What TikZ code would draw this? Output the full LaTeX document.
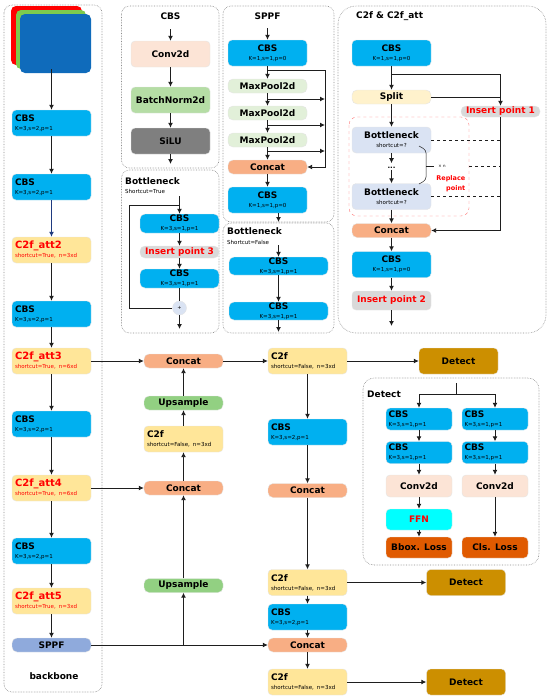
\documentclass[tikz,border=0pt]{standalone}
\usepackage{fontspec}
\setmainfont{DejaVu Sans}
\usetikzlibrary{arrows.meta,calc,positioning}
\definecolor{Ink}{HTML}{1E1E1E}
\definecolor{PanelGrey}{HTML}{8C8C8C}
\definecolor{EdgeGrey}{HTML}{E4E4E4}
\definecolor{CbsBlue}{HTML}{00B0F0}
\definecolor{StackRed}{HTML}{FF0000}
\definecolor{StackBlue}{HTML}{0F6BBB}
\definecolor{StackGreen}{HTML}{7CCB4E}
\definecolor{AttYellow}{HTML}{FFE699}
\definecolor{SplitYellow}{HTML}{FFF2CC}
\definecolor{SppfBlue}{HTML}{8FAADC}
\definecolor{ConcatOrange}{HTML}{F8AE84}
\definecolor{UpsampleGreen}{HTML}{92D082}
\definecolor{ConvPeach}{HTML}{FCE4D6}
\definecolor{NormGreen}{HTML}{B5DDA5}
\definecolor{PoolGreen}{HTML}{E2F0D9}
\definecolor{SiluGrey}{HTML}{7F7F7F}
\definecolor{InsertGrey}{HTML}{D9D9D9}
\definecolor{NeckBlue}{HTML}{DAE3F3}
\definecolor{DetectGold}{HTML}{CC8F00}
\definecolor{LossOrange}{HTML}{E05A00}
\definecolor{FfnCyan}{HTML}{00FFFF}
\definecolor{NavyLine}{HTML}{1F3A7F}
\newcommand{\twolab}[2]{#1\\[-1pt]{\fontsize{5.5}{6}\selectfont\mdseries #2}}
\tikzset{
  panel/.style={draw=PanelGrey,densely dotted,line width=0.6pt,rounded corners=8pt},
  blockbox/.style={rectangle,rounded corners=4pt,draw=EdgeGrey,line width=0.4pt,minimum width=79pt,inner sep=0pt,
    font=\fontsize{9}{10}\selectfont\bfseries,align=center},
  tallbox/.style={blockbox,minimum height=26pt},
  slimbox/.style={blockbox,minimum height=14pt,rounded corners=5pt},
  leftbox/.style={tallbox,align=left,text width=73pt},
  title/.style={inner sep=0pt,font=\fontsize{9}{10}\selectfont\bfseries},
  flow/.style={draw=Ink,line width=0.95pt,-{Latex[length=5pt,width=5pt]}},
  plainflow/.style={draw=Ink,line width=0.95pt},
  dashflow/.style={draw=Ink,line width=0.85pt,dashed},
}
\begin{document}
\begin{tikzpicture}[x=1pt,y=-1pt]
    \useasboundingbox (0,0) rectangle (550,699);
    % dotted panels
    \draw[panel] (4,5) rectangle (102,692);
    \draw[panel] (121.5,6) rectangle (219,168);
    \draw[panel] (223,6) rectangle (334,222);
    \draw[panel] (121.5,170) rectangle (219,333);
    \draw[panel] (223,223) rectangle (334,333);
    \draw[panel,rounded corners=18pt] (338,6) rectangle (546,333);
    \draw[panel,rounded corners=11pt] (363,378) rectangle (539,565);
    \draw[draw=red!55,dashed,line width=0.4pt,rounded corners=8pt] (349,117) rectangle (469,216);
    % backbone
    \node[rectangle,rounded corners=5pt,fill=StackRed,minimum width=71pt,minimum height=59pt] (stackr) at (46.5,35.5) {};
    \node[rectangle,rounded corners=5pt,fill=StackGreen,minimum width=70pt,minimum height=59pt] (stackg) at (51,39.5) {};
    \node[rectangle,rounded corners=5pt,fill=StackBlue,minimum width=71pt,minimum height=59pt] (stackb) at (55.5,43.5) {};
    \coordinate (stackout) at (51.5,69);
    \node[leftbox,fill=CbsBlue] (b1) at (51.5,123) {\twolab{CBS}{K=3,s=2,p=1}};
    \node[leftbox,fill=CbsBlue] (b2) at (51.5,187) {\twolab{CBS}{K=3,s=2,p=1}};
    \node[leftbox,fill=AttYellow,text=red] (b3) at (51.5,250) {\twolab{\fontsize{10}{10}\selectfont C2f\_att2}{shortcut=True, n=3xd}};
    \node[leftbox,fill=CbsBlue] (b4) at (51.5,314) {\twolab{CBS}{K=3,s=2,p=1}};
    \node[leftbox,fill=AttYellow,text=red] (b5) at (51.5,361) {\twolab{\fontsize{10}{10}\selectfont C2f\_att3}{shortcut=True, n=6xd}};
    \node[leftbox,fill=CbsBlue] (b6) at (51.5,424) {\twolab{CBS}{K=3,s=2,p=1}};
    \node[leftbox,fill=AttYellow,text=red] (b7) at (51.5,488) {\twolab{\fontsize{10}{10}\selectfont C2f\_att4}{shortcut=True, n=6xd}};
    \node[leftbox,fill=CbsBlue] (b8) at (51.5,551) {\twolab{CBS}{K=3,s=2,p=1}};
    \node[leftbox,fill=AttYellow,text=red] (b9) at (51.5,601) {\twolab{\fontsize{10}{10}\selectfont C2f\_att5}{shortcut=True, n=3xd}};
    \node[slimbox,fill=SppfBlue] (b10) at (51.5,645) {SPPF};
    \node[title] (backbonelab) at (54,676) {backbone};
    \draw[flow] (stackout) -- (b1);
    \draw[flow] (b1) -- (b2);
    \draw[flow,draw=NavyLine] (b2) -- (b3);
    \draw[flow] (b3) -- (b4);
    \draw[flow] (b4) -- (b5);
    \draw[flow] (b5) -- (b6);
    \draw[flow] (b6) -- (b7);
    \draw[flow] (b7) -- (b8);
    \draw[flow] (b8) -- (b9);
    \draw[flow] (b9) -- (b10);
    % CBS panel
    \node[title] (cbslab) at (170.5,16) {CBS};
    \node[tallbox,fill=ConvPeach] (cbsconv) at (170.5,54) {Conv2d};
    \node[tallbox,fill=NormGreen] (cbsnorm) at (170.5,100) {BatchNorm2d};
    \node[tallbox,fill=SiluGrey] (cbssilu) at (170.5,141) {SiLU};
    \coordinate (cbsin) at (170.5,29);
    \coordinate (cbsout) at (170.5,164);
    \draw[flow] (cbsin) -- (cbsconv);
    \draw[flow] (cbsconv) -- (cbsnorm);
    \draw[flow] (cbsnorm) -- (cbssilu);
    \draw[flow] (cbssilu) -- (cbsout);
    % SPPF panel
    \node[title] (sppflab) at (267.5,16) {SPPF};
    \node[tallbox,fill=CbsBlue] (s1) at (267.5,53) {\twolab{CBS}{K=1,s=1,p=0}};
    \node[slimbox,fill=PoolGreen] (s2) at (267.5,86) {MaxPool2d};
    \node[slimbox,fill=PoolGreen] (s3) at (267.5,113) {MaxPool2d};
    \node[slimbox,fill=PoolGreen] (s4) at (267.5,140) {MaxPool2d};
    \node[slimbox,fill=ConcatOrange] (s5) at (267.5,167) {Concat};
    \node[tallbox,fill=CbsBlue] (s6) at (267.5,200) {\twolab{CBS}{K=1,s=1,p=0}};
    \coordinate (sin) at (267.5,28);
    \coordinate (tap0) at (267.5,70);
    \coordinate (tap1) at (267.5,99);
    \coordinate (tap2) at (267.5,125);
    \coordinate (tap3) at (267.5,151);
    \coordinate (busr) at (325,70);
    \coordinate (sout) at (278.5,213);
    \coordinate (soutend) at (278.5,222);
    \draw[flow] (sin) -- (s1);
    \draw[flow] (s1) -- (s2);
    \draw[flow] (s2) -- (s3);
    \draw[flow] (s3) -- (s4);
    \draw[flow] (s4) -- (s5);
    \draw[flow] (s5) -- (s6);
    \draw[flow] (tap0) -- (busr) |- (s5);
    \draw[flow] (tap1) -- (busr |- tap1);
    \draw[flow] (tap2) -- (busr |- tap2);
    \draw[flow] (tap3) -- (busr |- tap3);
    \draw[flow] (sout) -- (soutend);
    % Bottleneck, shortcut on
    \node[title,anchor=west] (bt1lab) at (125,181) {Bottleneck};
    \node[anchor=west,inner sep=0pt,font=\fontsize{5.5}{6}\selectfont] (bt1sub) at (125,191) {Shortcut=True};
    \node[blockbox,fill=CbsBlue,minimum height=19pt,rounded corners=5pt] (t1) at (179.5,223.5) {\twolab{CBS}{K=3,s=1,p=1}};
    \node[slimbox,fill=InsertGrey,text=red,minimum height=12pt] (t2) at (179.5,252) {Insert point 3};
    \node[blockbox,fill=CbsBlue,minimum height=19pt,rounded corners=5pt] (t3) at (179.5,278.5) {\twolab{CBS}{K=3,s=1,p=1}};
    \node[circle,draw=EdgeGrey,fill=NeckBlue,minimum size=14pt,inner sep=0pt,font=\fontsize{5}{6}\selectfont] (tplus) at (179.5,308) {+};
    \coordinate (tin) at (179.5,196);
    \coordinate (ttap) at (179.5,205);
    \coordinate (tleft) at (129,205);
    \coordinate (tout) at (179.5,329);
    \draw[flow] (tin) -- (t1);
    \draw[flow] (t1) -- (t2);
    \draw[flow] (t2) -- (t3);
    \draw[plainflow] (t3) -- (tplus);
    \draw[flow] (tplus) -- (tout);
    \draw[plainflow] (ttap) -- (tleft) |- (tplus);
    % Bottleneck, shortcut off
    \node[title,anchor=west] (bt2lab) at (227,231) {Bottleneck};
    \node[anchor=west,inner sep=0pt,font=\fontsize{5.5}{6}\selectfont] (bt2sub) at (227,242) {Shortcut=False};
    \node[blockbox,fill=CbsBlue,minimum width=99pt,minimum height=18pt,rounded corners=5pt] (u1) at (278.5,266) {\twolab{CBS}{K=3,s=1,p=1}};
    \node[blockbox,fill=CbsBlue,minimum width=99pt,minimum height=18pt,rounded corners=5pt] (u2) at (278.5,311) {\twolab{CBS}{K=3,s=1,p=1}};
    \coordinate (uin) at (278.5,245);
    \coordinate (uout) at (278.5,332);
    \draw[flow] (uin) -- (u1);
    \draw[flow] (u1) -- (u2);
    \draw[flow] (u2) -- (uout);
    % C2f panel
    \node[title,anchor=west] (c2flab) at (356,16) {C2f \& C2f\_att};
    \node[tallbox,fill=CbsBlue] (c1) at (391.5,53) {\twolab{CBS}{K=1,s=1,p=0}};
    \node[slimbox,fill=SplitYellow] (c2) at (391.5,97) {Split};
    \node[slimbox,fill=InsertGrey,text=red,minimum height=11pt] (c3) at (500.5,111.5) {Insert point 1};
    \node[tallbox,fill=NeckBlue] (c4) at (391.5,140) {\twolab{Bottleneck}{shortcut=?}};
    \node[inner sep=0pt,font=\fontsize{7}{8}\selectfont\bfseries] (cdots) at (391.5,168) {...};
    \node[tallbox,fill=NeckBlue] (c5) at (391.5,196.5) {\twolab{Bottleneck}{shortcut=?}};
    \node[slimbox,fill=ConcatOrange] (c6) at (391.5,230.5) {Concat};
    \node[tallbox,fill=CbsBlue] (c7) at (391.5,264.5) {\twolab{CBS}{K=1,s=1,p=0}};
    \node[blockbox,fill=InsertGrey,text=red,minimum height=19pt] (c8) at (391.5,300.5) {Insert point 2};
    \node[inner sep=0pt,font=\fontsize{6.5}{10}\selectfont\bfseries,text=red,align=right,anchor=east] (creplace) at (465.5,184) {Replace\\point};
    \node[inner sep=0pt,font=\fontsize{4}{5}\selectfont] (ctimes) at (442,166.5) {× n};
    \coordinate (ctap) at (391.5,74);
    \coordinate (cbus) at (500.5,74);
    \coordinate (cdash) at (500.5,166.5);
    \coordinate (cdashl) at (469,166.5);
    \coordinate (ctick) at (426,166.5);
    \coordinate (ctickr) at (434,166.5);
    \coordinate (cout) at (391.5,326);
    \draw[flow] (c1) -- (c2);
    \draw[plainflow] (ctap) -- (cbus);
    \draw[flow] (cbus) -- (c3);
    \draw[plainflow] (c2) -- (c2 -| c3);
    \draw[flow] (c2) -- (c4);
    \draw[flow] (c4.south) -- ++(0,10);
    \draw[flow] (cdots.south) ++(0,1) -- (c5);
    \draw[flow] (c5) -- (c6);
    \draw[flow] (c6) -- (c7);
    \draw[flow] (c7) -- (c8);
    \draw[flow] (c8) -- (cout);
    \draw[flow] (c3) |- (c6);
    \draw[dashflow] (c4) -- (c4 -| c3);
    \draw[dashflow] (cdashl) -- (cdash);
    \draw[dashflow] (c5) -- (c5 -| c3);
    \draw[draw=Ink,line width=0.5pt,rounded corners=3pt] (419,146) -- (426,150) -- (426,180) -- (419,184);
    \draw[draw=Ink,line width=0.4pt] (ctick) -- (ctickr);
    % neck, first column
    \node[slimbox,fill=ConcatOrange] (n1) at (183.5,361) {Concat};
    \node[slimbox,fill=UpsampleGreen] (n2) at (183.5,403) {Upsample};
    \node[leftbox,fill=AttYellow] (n3) at (183.5,439) {\twolab{C2f}{shortcut=False, n=3xd}};
    \node[slimbox,fill=ConcatOrange] (n4) at (183.5,488) {Concat};
    \node[slimbox,fill=UpsampleGreen] (n5) at (183.5,585.5) {Upsample};
    \coordinate (ntap) at (183.5,645);
    \draw[flow] (ntap) -- (n5);
    \draw[flow] (n5) -- (n4);
    \draw[flow] (n4) -- (n3);
    \draw[flow] (n3) -- (n2);
    \draw[flow] (n2) -- (n1);
    % neck, second column
    \node[leftbox,fill=AttYellow] (m1) at (307.5,361) {\twolab{C2f}{shortcut=False, n=3xd}};
    \node[leftbox,fill=CbsBlue] (m2) at (307.5,432) {\twolab{CBS}{K=3,s=2,p=1}};
    \node[slimbox,fill=ConcatOrange] (m3) at (307.5,490.5) {Concat};
    \node[leftbox,fill=AttYellow] (m4) at (307.5,582.5) {\twolab{C2f}{shortcut=False, n=3xd}};
    \node[leftbox,fill=CbsBlue] (m5) at (307.5,617) {\twolab{CBS}{K=3,s=2,p=1}};
    \node[slimbox,fill=ConcatOrange] (m6) at (307.5,645) {Concat};
    \node[leftbox,fill=AttYellow] (m7) at (307.5,682) {\twolab{C2f}{shortcut=False, n=3xd}};
    \draw[flow] (m1) -- (m2);
    \draw[flow] (m2) -- (m3);
    \draw[flow] (m3) -- (m4);
    \draw[flow] (m4) -- (m5);
    \draw[flow] (m5) -- (m6);
    \draw[flow] (m6) -- (m7);
    \draw[flow] (b5) -- (n1);
    \draw[flow] (n1) -- (m1);
    \draw[flow] (b7) -- (n4);
    \draw[flow] (b10) -- (m6);
    % detect outputs
    \node[tallbox,fill=DetectGold] (d1) at (458.5,361) {Detect};
    \node[tallbox,fill=DetectGold] (d2) at (466,582.5) {Detect};
    \node[tallbox,fill=DetectGold] (d3) at (466,682) {Detect};
    \draw[flow] (m1) -- (d1);
    \draw[flow] (m4) -- (d2);
    \draw[flow] (m7) -- (d3);
    % Detect panel
    \node[title,anchor=west] (detlab) at (367,394) {Detect};
    \node[leftbox,minimum width=66pt,text width=61pt,minimum height=22pt,fill=CbsBlue] (l1) at (419,419) {\twolab{CBS}{K=3,s=1,p=1}};
    \node[leftbox,minimum width=66pt,text width=61pt,minimum height=22pt,fill=CbsBlue] (l2) at (419,452.5) {\twolab{CBS}{K=3,s=1,p=1}};
    \node[blockbox,minimum width=66pt,minimum height=22pt,fill=ConvPeach] (l3) at (419,486) {Conv2d};
    \node[blockbox,minimum width=66pt,minimum height=21pt,fill=FfnCyan,text=red] (l4) at (419,519.5) {FFN};
    \node[blockbox,minimum width=66pt,minimum height=21pt,fill=LossOrange] (l5) at (419,547.5) {Bbox. Loss};
    \node[leftbox,minimum width=66pt,text width=61pt,minimum height=22pt,fill=CbsBlue] (r1) at (495,419) {\twolab{CBS}{K=3,s=1,p=1}};
    \node[leftbox,minimum width=66pt,text width=61pt,minimum height=22pt,fill=CbsBlue] (r2) at (495,452.5) {\twolab{CBS}{K=3,s=1,p=1}};
    \node[blockbox,minimum width=66pt,minimum height=22pt,fill=ConvPeach] (r3) at (495,486) {Conv2d};
    \node[blockbox,minimum width=66pt,minimum height=21pt,fill=LossOrange] (r5) at (495,547.5) {Cls. Loss};
    \coordinate (dettop) at (456,383);
    \coordinate (detmid) at (456,394);
    \coordinate (detl) at (419,394);
    \coordinate (detr) at (495,394);
    \draw[plainflow] (dettop) -- (detmid);
    \draw[plainflow] (detl) -- (detr);
    \draw[flow] (detl) -- (l1);
    \draw[flow] (detr) -- (r1);
    \draw[flow] (l1) -- (l2);
    \draw[flow] (l2) -- (l3);
    \draw[flow] (l3) -- (l4);
    \draw[flow] (l4) -- (l5);
    \draw[flow] (r1) -- (r2);
    \draw[flow] (r2) -- (r3);
    \draw[flow] (r3) -- (r5);
  \end{tikzpicture}
\end{document}
